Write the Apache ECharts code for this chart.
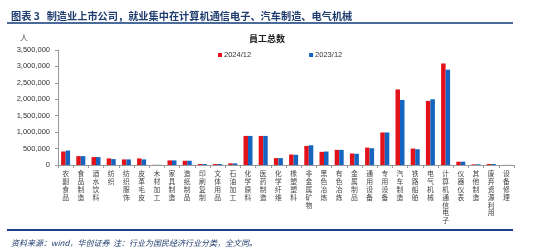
<!DOCTYPE html>
<html>
<head>
<meta charset="utf-8">
<script src="https://cdn.jsdelivr.net/npm/echarts@6/dist/echarts.min.js"></script>
<style>
	html, body { margin: 0; padding: 0; background: #fff; }
	#main { width: 550px; height: 250px; }
</style>
</head>
<body>
<div id="main"></div>
<script>
	// 行业分类
	var categories = ['农副食品', '食品制造', '酒水饮料', '纺织', '纺织服饰', '皮革毛皮', '木材加工', '家具制造', '造纸制品', '印刷复制',
		'文体用品', '石油加工', '化学原料', '医药制造', '化学纤维', '橡塑塑料', '非金属矿物', '黑色冶炼', '有色冶炼', '金属制品',
		'通用设备', '专用设备', '汽车制造', '铁路船舶', '电气机械', '计算机通信电子', '仪器仪表', '其他制造', '废弃资源利用', '设备修理']
	// 员工总数（人）
	var staff2024 = [410000, 270000, 240000, 200000, 170000, 200000, 5000, 140000, 130000, 30000,
		30000, 50000, 885000, 885000, 210000, 320000, 580000, 400000, 460000, 350000,
		530000, 990000, 2300000, 500000, 1950000, 3090000, 100000, 20000, 30000, 3000]
	var staff2023 = [440000, 270000, 240000, 180000, 170000, 170000, 5000, 140000, 130000, 30000,
		30000, 50000, 885000, 885000, 210000, 310000, 600000, 410000, 460000, 340000,
		510000, 990000, 1980000, 480000, 2000000, 2900000, 100000, 20000, 30000, 3000]
	var seriesNames = ['2024/12', '2023/12']

	var cjk = '"Noto Sans CJK SC", sans-serif'
	var num = '"Liberation Sans", Arial, sans-serif'

	function fmt(v) {
		return String(v).replace(/\B(?=(\d{3})+(?!\d))/g, ',')
	}

	var myChart = echarts.init(document.getElementById('main'))
	var option = {
		backgroundColor: '#fff',
		animation: false,
		color: ['#E3121A', '#1565C0'],
		title: [
			{
				text: '图表 3   制造业上市公司，就业集中在计算机通信电子、汽车制造、电气机械',
				left: 6, top: 6,
				textStyle: { fontFamily: cjk, fontSize: 10.2, fontWeight: 'bold', color: '#1F3C6E' }
			},
			{
				text: '員工总数',
				left: 262, top: 29, textAlign: 'center',
				textStyle: { fontFamily: cjk, fontSize: 9, fontWeight: 'bold', color: '#222' }
			},
			{
				text: '人',
				left: 15, top: 29,
				textStyle: { fontFamily: cjk, fontSize: 8, fontWeight: 'normal', color: '#444' }
			},
			{
				text: '资料来源：wind，华创证券  注：行业为国民经济行业分类，全文同。',
				left: 6, top: 234,
				textStyle: { fontFamily: cjk, fontSize: 8, fontWeight: 'normal', fontStyle: 'italic', color: '#1F3C6E' }
			}
		],
		graphic: [
			{ type: 'rect', shape: { x: 7, y: 22, width: 506, height: 2 }, style: { fill: '#4A6A9A' } },
			{ type: 'rect', shape: { x: 7, y: 229, width: 506, height: 2 }, style: { fill: '#1F3C88' } }
		],
		legend: {
			data: seriesNames,
			top: 46,
			left: 213,
			itemGap: 58,
			itemWidth: 4,
			itemHeight: 4,
			icon: 'rect',
			textStyle: { fontFamily: num, fontSize: 7.5, color: '#333', padding: [0, 0, 0, -3] }
		},
		grid: { left: 58, right: 36, top: 50, bottom: 85 },
		xAxis: {
			type: 'category',
			data: categories,
			axisLine: { lineStyle: { color: '#999' } },
			axisTick: { show: true, length: 3, lineStyle: { color: '#999' } },
			axisLabel: {
				interval: 0,
				margin: 5,
				fontFamily: cjk,
				fontSize: 6.8,
				lineHeight: 7.8,
				color: '#444',
				verticalAlign: 'top',
				formatter: function (v) { return v.split('').join('\n') }
			}
		},
		yAxis: {
			type: 'value',
			min: 0,
			max: 3500000,
			interval: 500000,
			axisLine: { show: true, lineStyle: { color: '#999' } },
			axisTick: { show: true, length: 3, lineStyle: { color: '#999' } },
			splitLine: { show: false },
			axisLabel: {
				fontFamily: num, fontSize: 7.5, color: '#333', margin: 8,
				formatter: function (v) { return fmt(v) }
			}
		},
		series: [
			{ name: seriesNames[0], type: 'bar', data: staff2024, barWidth: 4.5, barGap: '0%' },
			{ name: seriesNames[1], type: 'bar', data: staff2023, barWidth: 4.5, barGap: '0%' }
		]
	}
	myChart.setOption(option)
</script>
</body>
</html>
